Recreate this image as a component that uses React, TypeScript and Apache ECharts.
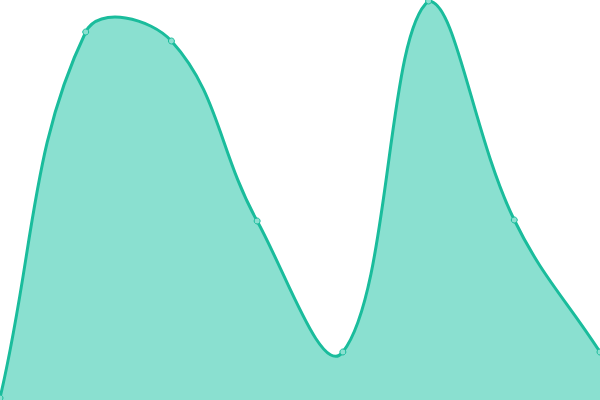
import React, { useEffect, useRef } from 'react'
import * as echarts from 'echarts'

const categories = ['1', '2', '3', '4', '5', '6', '7', '8']
const values = [2, 368, 359, 179, 48, 399, 180, 48]

const LINE = '#1abc9c'
const FILL = '#8ae0d0'
const TENSION = 0.4

// cardinal-style bezier through the points (tension like chart.js)
const buildPath = (pts: number[][], top: number, bottom: number) => {
  const cps = pts.map((cur, i) => {
    const prev = pts[i - 1] || cur
    const next = pts[i + 1] || cur
    const d01 = Math.hypot(cur[0] - prev[0], cur[1] - prev[1])
    const d12 = Math.hypot(next[0] - cur[0], next[1] - cur[1])
    const sum = d01 + d12 || 1
    const fa = (TENSION * d01) / sum
    const fb = (TENSION * d12) / sum
    const dx = next[0] - prev[0]
    const dy = next[1] - prev[1]
    const clampY = (y: number) => Math.max(top, Math.min(bottom, y))
    return {
      prev: [cur[0] - fa * dx, clampY(cur[1] - fa * dy)],
      next: [cur[0] + fb * dx, clampY(cur[1] + fb * dy)]
    }
  })
  let d = `M${pts[0][0]},${pts[0][1]}`
  for (let i = 1; i < pts.length; i++) {
    const a = cps[i - 1].next
    const b = cps[i].prev
    d += ` C${a[0]},${a[1]} ${b[0]},${b[1]} ${pts[i][0]},${pts[i][1]}`
  }
  return d
}

const App: React.FC = () => {
  const chartRef = useRef<HTMLDivElement>(null)

  useEffect(() => {
    if (!chartRef.current) return
    const chart = echarts.init(chartRef.current, undefined, { renderer: 'svg' })

    const option: echarts.EChartsOption = {
      animation: false,
      grid: { left: 0, right: 0, top: 0, bottom: 0 },
      xAxis: {
        type: 'category',
        data: categories,
        boundaryGap: false,
        show: false
      },
      yAxis: {
        type: 'value',
        min: 0,
        max: 400,
        show: false
      },
      series: [
        {
          type: 'custom',
          silent: true,
          z: 1,
          data: values.map((v, i) => [i, v]),
          renderItem: (params: any, api: any) => {
            if (params.dataIndex !== 0) return null
            const pts = values.map((v, i) => api.coord([i, v]))
            const top = api.coord([0, 400])[1]
            const bottom = api.coord([0, 0])[1]
            const line = buildPath(pts, top, bottom)
            const last = pts[pts.length - 1]
            const area = `${line} L${last[0]},${bottom} L${pts[0][0]},${bottom} Z`
            return {
              type: 'group',
              children: [
                {
                  type: 'path',
                  shape: { pathData: area },
                  style: { fill: FILL, stroke: 'none' }
                },
                {
                  type: 'path',
                  shape: { pathData: line },
                  style: { fill: 'none', stroke: LINE, lineWidth: 3 }
                }
              ]
            }
          }
        } as any,
        {
          type: 'line',
          data: values,
          z: 3,
          symbol: 'circle',
          symbolSize: 6,
          itemStyle: {
            color: FILL,
            borderColor: LINE,
            borderWidth: 1
          },
          lineStyle: { opacity: 0 }
        }
      ]
    }

    chart.setOption(option)
    return () => {
      chart.dispose()
    }
  }, [])

  return (
    <div
      ref={chartRef}
      style={{ position: 'fixed', left: 0, top: 0, width: '600px', height: '400px' }}
    />
  )
}

export default App
